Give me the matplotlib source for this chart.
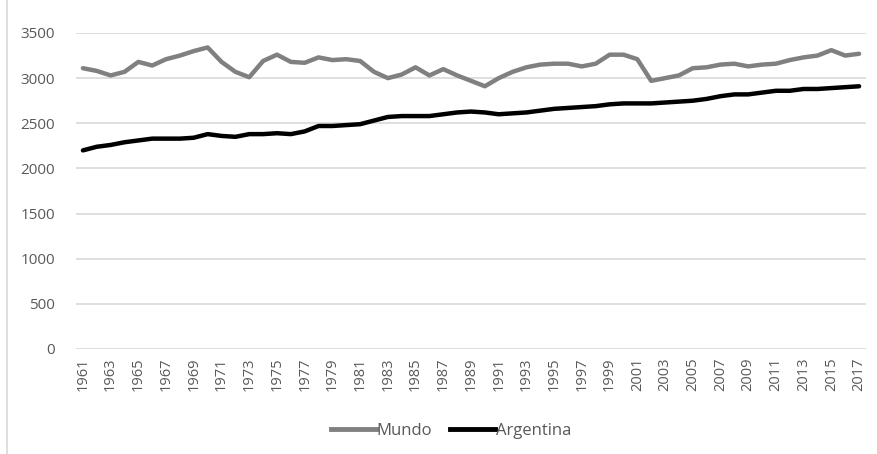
import matplotlib
matplotlib.use("Agg")
import matplotlib.pyplot as plt
from matplotlib.lines import Line2D

years = list(range(1961, 2018))

mundo = [3110, 3080, 3030, 3070, 3180, 3140, 3210, 3250, 3300, 3340,
         3180, 3070, 3010, 3190, 3260, 3180, 3170, 3230, 3200, 3210,
         3190, 3070, 3000, 3040, 3120, 3030, 3100, 3030, 2970, 2910,
         3000, 3070, 3120, 3150, 3160, 3160, 3130, 3160, 3260, 3260,
         3210, 2970, 3000, 3030, 3110, 3120, 3150, 3160, 3130, 3150,
         3160, 3200, 3230, 3250, 3310, 3250, 3270]

argentina = [2200, 2240, 2260, 2290, 2310, 2330, 2330, 2330, 2340, 2380,
             2360, 2350, 2380, 2380, 2390, 2380, 2410, 2470, 2470, 2480,
             2490, 2530, 2570, 2580, 2580, 2580, 2600, 2620, 2630, 2620,
             2600, 2610, 2620, 2640, 2660, 2670, 2680, 2690, 2710, 2720,
             2720, 2720, 2730, 2740, 2750, 2770, 2800, 2820, 2820, 2840,
             2860, 2860, 2880, 2880, 2890, 2900, 2910]

y_ticks = [0, 500, 1000, 1500, 2000, 2500, 3000, 3500]

text_color = '#595959'
grid_color = '#d9d9d9'
plt.rcParams['font.family'] = ['Open Sans', 'DejaVu Sans']

fig = plt.figure(figsize=(8.78, 4.54), dpi=100)
ax = fig.add_axes([76 / 878, 1 - 349 / 454, 790 / 878, 316 / 454])

ax.plot(years, mundo, color='#808080', lw=3.2, solid_capstyle='round',
        solid_joinstyle='round', label='Mundo', zorder=3)
ax.plot(years, argentina, color='#000000', lw=3.2, solid_capstyle='round',
        solid_joinstyle='round', label='Argentina', zorder=3)

ax.set_xlim(1960.5, 2017.5)
ax.set_ylim(0, 3500)
ax.set_yticks(y_ticks)
ax.set_yticklabels([str(v) for v in y_ticks])
ax.set_xticks(years[::2])
ax.set_xticklabels([str(y) for y in years[::2]], rotation=90)

ax.grid(axis='y', color=grid_color, lw=1.2, zorder=0)
for s in ax.spines.values():
    s.set_visible(False)
ax.tick_params(axis='both', length=0, labelcolor=text_color)
ax.tick_params(axis='y', pad=15, labelsize=11)
ax.tick_params(axis='x', pad=6, labelsize=10.5)

# legend under the axis
handles = [Line2D([0], [0], color='#808080', lw=3.5),
           Line2D([0], [0], color='#000000', lw=3.5)]
fig.legend(handles, ['Mundo', 'Argentina'], loc='center',
           bbox_to_anchor=(451 / 878, 1 - 431 / 454), ncol=2, frameon=False,
           fontsize=12, labelcolor=text_color, handlelength=2.7,
           handletextpad=0.05, columnspacing=1.1)

# left edge of the chart frame
fig.add_artist(Line2D([7 / 878, 7 / 878], [0, 1], color=grid_color, lw=1.2))

fig.savefig('out.png', dpi=100, facecolor='white')
